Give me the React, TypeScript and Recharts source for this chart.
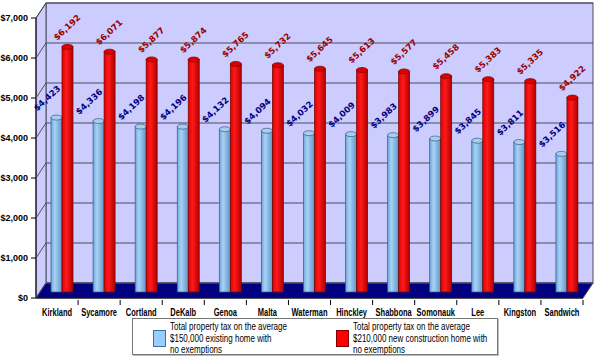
import * as React from "react";
import { BarChart, Bar, XAxis, YAxis, CartesianGrid, LabelList } from "recharts";

const towns = [
  "Kirkland",
  "Sycamore",
  "Cortland",
  "DeKalb",
  "Genoa",
  "Malta",
  "Waterman",
  "Hinckley",
  "Shabbona",
  "Somonauk",
  "Lee",
  "Kingston",
  "Sandwich",
];
const existingHome = [4423, 4336, 4198, 4196, 4132, 4094, 4032, 4009, 3983, 3899, 3845, 3811, 3516];
const newHome = [6192, 6071, 5877, 5874, 5765, 5732, 5645, 5613, 5577, 5458, 5383, 5335, 4922];
const yTicks = [0, 1000, 2000, 3000, 4000, 5000, 6000, 7000];
const Y_MAX = 7000;

const existingLabel = ["Total property tax on the average", "$150,000 existing home with", "no exemptions"];
const newLabel = ["Total property tax on the average", "$210,000 new construction home with", "no exemptions"];

const data = towns.map((name, i) => ({ name, existing: existingHome[i], newBuild: newHome[i] }));

// layout of the fake 3d box
const W = 600;
const H = 359;
const M = { top: 18, right: 17, left: 0, bottom: 0 };
const Y_W = 36;
const X_H = 61;
const L = M.left + Y_W;
const R = W - M.right;
const T = M.top;
const B = H - M.bottom - X_H;
const DX = 10; // depth
const DY = 15;
const BAR_DX = 5;
const BAR_DY = -6;

const LAVENDER = "#ccccff";
const NAVY = "#000080";
const GRID = "#4a4a5a";

const money = (v: number) => "$" + v.toLocaleString("en-US");

const cylinder = (grad: string, dark: string, cap: string) => (props: any) => {
  const { x, y, width, height } = props;
  const cx = x + BAR_DX;
  const cy = y + BAR_DY;
  const ry = 2.5;
  return (
    <g>
      <rect x={cx} y={cy + ry} width={width} height={Math.max(height - ry, 0)} fill={`url(#${grad})`} stroke={dark} strokeWidth={0.7} />
      <ellipse cx={cx + width / 2} cy={cy + ry} rx={width / 2} ry={ry} fill={cap} stroke={dark} strokeWidth={0.7} />
    </g>
  );
};

const tiltedLabel = (color: string, shift: number) => (props: any) => {
  const { x, y, width, value } = props;
  const tx = x + width / 2 + shift;
  const ty = y - 23;
  return (
    <text
      x={tx}
      y={ty}
      transform={`rotate(-43 ${tx} ${ty})`}
      textAnchor="middle"
      dominantBaseline="central"
      fill={color}
      fontSize={8.5}
      fontWeight="bold"
      fontFamily="DejaVu Sans"
    >
      {money(value)}
    </text>
  );
};

const YTick = (props: any) => {
  const { x, y, payload } = props;
  const ax = L;
  return (
    <g>
      <line x1={ax} y1={y} x2={ax + DX} y2={y - DY} stroke={GRID} strokeWidth={1} />
      <text x={x} y={y} dy={3} textAnchor="end" fontSize={9} fontWeight="bold" fontFamily="Liberation Sans" fill="#000">
        {money(payload.value)}
      </text>
    </g>
  );
};

const XTick = (props: any) => {
  const { x, y, payload } = props;
  const half = payload.offset || (R - L) / towns.length / 2;
  return (
    <g>
      <line x1={x + half} y1={y} x2={x + half} y2={y + 5} stroke="#000" />
      <g transform={`translate(${x},${y + 16}) scale(0.75,1)`}>
        <text x={0} y={0} textAnchor="middle" fontSize={10} fontWeight="bold" fontFamily="Liberation Sans" fill="#000">
          {payload.value}
        </text>
      </g>
    </g>
  );
};

// back-wall grid lines, pushed up by the box depth
const backWallLines = ({ yAxis, offset }: any) =>
  yTicks.map((t) => {
    if (yAxis && typeof yAxis.scale === "function") return yAxis.scale(t) - DY;
    const top = offset?.top ?? T;
    const h = offset?.height ?? B - T;
    return top + h * (1 - t / Y_MAX) - DY;
  });

const LegendItem = ({ left, color, border, lines }: { left: number; color: string; border: string; lines: string[] }) => (
  <>
    <div
      style={{
        position: "absolute",
        left,
        top: 11,
        width: 11,
        height: 15,
        background: color,
        border: `1px solid ${border}`,
      }}
    />
    <div
      style={{
        position: "absolute",
        left: left + 17,
        top: 2,
        lineHeight: "11.5px",
        whiteSpace: "nowrap",
        transform: "scaleX(0.8)",
        transformOrigin: "0 0",
      }}
    >
      {lines.map((l) => (
        <div key={l}>{l}</div>
      ))}
    </div>
  </>
);

export default function App() {
  return (
    <div style={{ position: "absolute", left: 0, top: 0, width: W, height: H, background: "#fff", overflow: "hidden" }}>
      <svg width={W} height={H} style={{ position: "absolute", left: 0, top: 0 }}>
        <defs>
          <linearGradient id="blueCyl" x1="0" y1="0" x2="1" y2="0">
            <stop offset="0" stopColor="#6fa6d8" />
            <stop offset="0.35" stopColor="#a8d2f5" />
            <stop offset="1" stopColor="#5f96c8" />
          </linearGradient>
          <linearGradient id="redCyl" x1="0" y1="0" x2="1" y2="0">
            <stop offset="0" stopColor="#e00000" />
            <stop offset="0.4" stopColor="#ff1a1a" />
            <stop offset="1" stopColor="#b00000" />
          </linearGradient>
        </defs>
        {/* back wall */}
        <rect x={L + DX} y={T - DY} width={R - L} height={B - T} fill={LAVENDER} stroke={GRID} strokeWidth={1} />
        {/* side wall */}
        <polygon
          points={`${L},${T} ${L + DX},${T - DY} ${L + DX},${B - DY} ${L},${B}`}
          fill={LAVENDER}
          stroke={GRID}
          strokeWidth={1}
        />
        {/* floor */}
        <polygon
          points={`${L},${B} ${L + DX},${B - DY} ${R + DX},${B - DY} ${R},${B}`}
          fill={NAVY}
          stroke={GRID}
          strokeWidth={1}
        />
      </svg>
      <div style={{ position: "absolute", left: 0, top: 0 }}>
        <BarChart width={W} height={H} data={data} margin={M} barSize={11} barGap={0}>
          <CartesianGrid
            x={L + DX}
            y={T - DY}
            width={R - L}
            height={B - T}
            vertical={false}
            stroke={GRID}
            horizontalCoordinatesGenerator={backWallLines}
          />
          <XAxis
            dataKey="name"
            height={X_H}
            interval={0}
            tickLine={false}
            tickSize={0}
            axisLine={{ stroke: "#000" }}
            tick={<XTick />}
          />
          <YAxis
            width={Y_W}
            domain={[0, Y_MAX]}
            ticks={yTicks}
            axisLine={{ stroke: "#000" }}
            tickLine={{ stroke: "#000" }}
            tickSize={5}
            tickMargin={3}
            tick={<YTick />}
          />
          <Bar dataKey="existing" isAnimationActive={false} shape={cylinder("blueCyl", "#2d5d8a", "#a9cdea")}>
            <LabelList dataKey="existing" content={tiltedLabel("#000080", -4.5)} />
          </Bar>
          <Bar dataKey="newBuild" isAnimationActive={false} shape={cylinder("redCyl", "#700000", "#dd0000")}>
            <LabelList dataKey="newBuild" content={tiltedLabel("#990000", 4.5)} />
          </Bar>
        </BarChart>
      </div>
      <div
        style={{
          position: "absolute",
          left: 132,
          top: 318,
          width: 364,
          height: 35,
          border: "1px solid #777",
          boxShadow: "1px 1px 0 #bbb",
          background: "#fff",
          fontFamily: "Liberation Sans",
          fontSize: 10,
          color: "#000",
        }}
      >
        <LegendItem left={20} color="#99ccff" border="#3d6f9e" lines={existingLabel} />
        <LegendItem left={203} color="#ff0000" border="#800000" lines={newLabel} />
      </div>
    </div>
  );
}
